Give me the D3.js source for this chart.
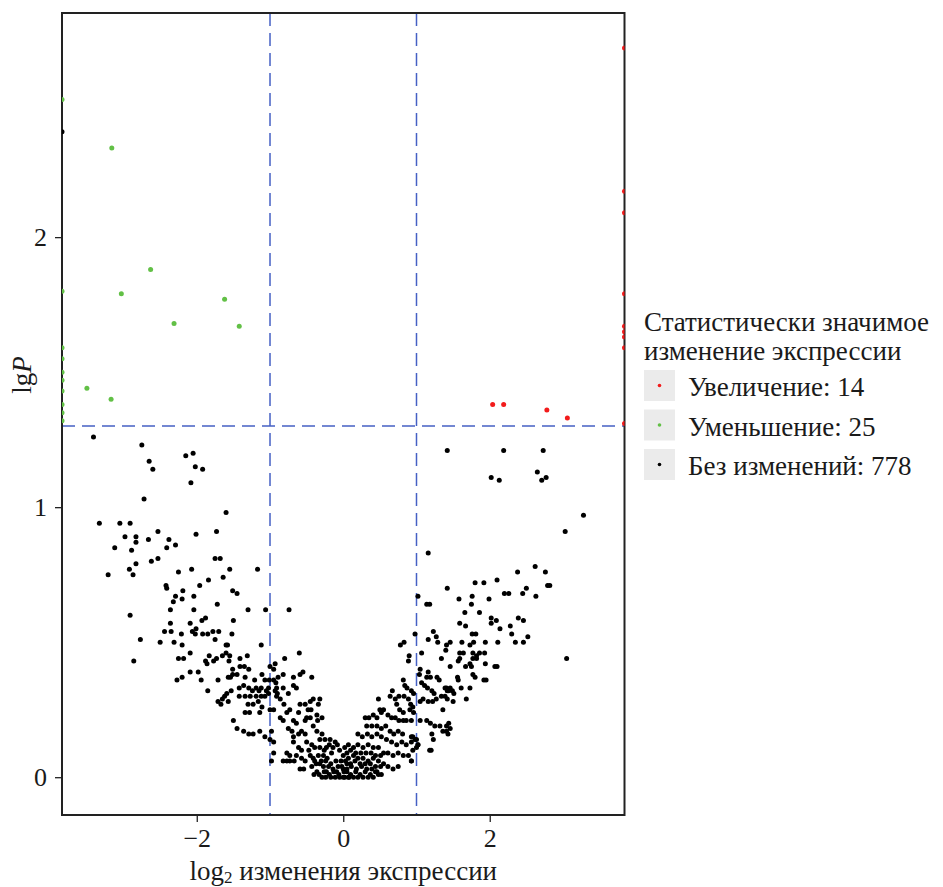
<!DOCTYPE html>
<html>
<head>
<meta charset="utf-8">
<script src="https://cdn.jsdelivr.net/npm/d3@7"></script>
<style>
  body { margin: 0; background: #fff; }
  svg { display: block; font-family: "Liberation Serif", "Times New Roman", serif; }
</style>
</head>
<body>
<div id="chart"></div>
<script>
// Significant increase (red), points at x = 3.84 sit on the panel edge
const upPoints = [
  [2.04, 1.38], [2.19, 1.38], [2.78, 1.36], [3.06, 1.33],
  [3.84, 2.70], [3.84, 2.17], [3.84, 2.09], [3.84, 1.79], [3.84, 1.67],
  [3.84, 1.65], [3.84, 1.63], [3.84, 1.59], [3.84, 1.31]
];

// Significant decrease (green), points at x = -3.84 sit on the panel edge
const downPoints = [
  [-3.16, 2.33], [-2.63, 1.88], [-3.03, 1.79], [-1.62, 1.77], [-2.31, 1.68],
  [-1.42, 1.67], [-3.50, 1.44], [-3.17, 1.40],
  [-3.84, 2.51], [-3.84, 1.80], [-3.84, 1.59], [-3.84, 1.55], [-3.84, 1.50],
  [-3.84, 1.47], [-3.84, 1.43], [-3.84, 1.38], [-3.84, 1.35], [-3.84, 1.32]
];

// No change (black)
const noChangePoints = [
  [-3.84, 2.39],
  // left arm, upper
  [-3.41, 1.26], [-2.75, 1.23], [-2.65, 1.17], [-2.60, 1.14], [-2.15, 1.19], [-2.05, 1.20], [-2.02, 1.15],
  [-1.92, 1.14], [-2.08, 1.09], [-2.72, 1.03], [-1.60, 0.98], [-3.33, 0.94], [-3.05, 0.94], [-2.91, 0.94],
  [-2.53, 0.91], [-2.83, 0.89], [-2.98, 0.89], [-2.01, 0.90], [-1.73, 0.91], [-2.38, 0.88], [-2.66, 0.88],
  [-2.83, 0.87], [-2.29, 0.86], [-2.41, 0.85], [-3.12, 0.85], [-2.89, 0.84], [-1.75, 0.81], [-1.68, 0.81],
  [-2.53, 0.81], [-2.62, 0.80], [-2.83, 0.79], [-2.92, 0.77], [-2.87, 0.75], [-3.21, 0.75], [-2.25, 0.76],
  [-2.07, 0.77], [-1.55, 0.77], [-1.64, 0.74], [-1.84, 0.73], [-2.42, 0.71], [-2.41, 0.70], [-1.96, 0.71],
  [-2.19, 0.69], [-2.29, 0.67], [-2.20, 0.66], [-2.04, 0.67], [-2.32, 0.65], [-1.51, 0.69], [-1.45, 0.68],
  [-1.72, 0.64], [-2.36, 0.62], [-2.04, 0.62], [-2.91, 0.60], [-2.09, 0.57], [-1.93, 0.58], [-1.88, 0.59],
  [-1.50, 0.58], [-2.36, 0.57], [-2.06, 0.54], [-2.01, 0.55], [-2.44, 0.54], [-2.35, 0.54], [-2.21, 0.53],
  [-1.92, 0.53], [-1.85, 0.53], [-1.78, 0.54], [-1.70, 0.54], [-1.52, 0.53], [-2.02, 0.53], [-2.77, 0.51],
  [-1.75, 0.51], [-2.86, 0.43],
  // left arm, lower
  [-2.50, 0.50], [-2.31, 0.50], [-2.20, 0.49], [-1.60, 0.49], [-1.58, 0.49], [-2.09, 0.46], [-1.83, 0.45],
  [-1.65, 0.45], [-1.60, 0.46], [-1.55, 0.45], [-2.25, 0.44], [-2.18, 0.44], [-1.88, 0.43], [-1.86, 0.42],
  [-1.77, 0.43], [-1.73, 0.44], [-1.56, 0.43], [-1.41, 0.44], [-2.09, 0.39], [-1.98, 0.39], [-1.51, 0.40],
  [-2.27, 0.36], [-2.20, 0.37], [-1.94, 0.36], [-1.71, 0.36], [-1.57, 0.37], [-1.54, 0.37], [-1.51, 0.38],
  [-1.41, 0.41], [-1.85, 0.32], [-1.53, 0.32], [-1.59, 0.31], [-1.62, 0.30], [-1.65, 0.29], [-1.71, 0.28],
  [-1.67, 0.27], [-1.57, 0.28], [-1.42, 0.33], [-1.50, 0.21], [-1.45, 0.18],
  // around x = -1
  [-1.17, 0.77], [-1.30, 0.62], [-1.06, 0.62], [-1.12, 0.49], [-1.31, 0.45], [-1.35, 0.41], [-1.29, 0.40],
  [-1.45, 0.38], [-1.21, 0.36], [-1.11, 0.38], [-1.07, 0.36], [-1.01, 0.36], [-0.95, 0.36], [-0.92, 0.35],
  [-1.36, 0.34], [-1.29, 0.33], [-1.24, 0.32], [-1.19, 0.33], [-1.15, 0.32], [-1.12, 0.33], [-1.05, 0.32],
  [-1.02, 0.33], [-1.42, 0.30], [-1.34, 0.30], [-1.27, 0.30], [-1.19, 0.30], [-1.12, 0.30],
  [-0.74, 0.62], [-0.60, 0.46], [-0.93, 0.42], [-0.80, 0.44], [-1.00, 0.41], [-0.95, 0.40], [-0.75, 0.31],
  [-0.64, 0.33], [-0.29, 0.22], [-0.36, 0.23], [-0.35, 0.21],
  // centre, left half
  [-1.34, 0.37], [-0.89, 0.37], [-0.82, 0.38], [-0.68, 0.37], [-0.59, 0.38], [-0.55, 0.39], [-0.43, 0.37],
  [-0.68, 0.34], [-0.82, 0.33], [-0.91, 0.33], [-1.07, 0.30], [-1.02, 0.31], [-0.93, 0.32], [-0.90, 0.31],
  [-0.86, 0.29], [-0.81, 0.27], [-0.91, 0.30], [-1.30, 0.27], [-1.23, 0.27], [-1.16, 0.28], [-1.11, 0.26],
  [-1.34, 0.24], [-1.28, 0.24], [-1.14, 0.24], [-1.00, 0.25], [-0.95, 0.25], [-0.77, 0.24], [-0.73, 0.25],
  [-0.61, 0.24], [-0.48, 0.25], [-0.44, 0.25], [-0.59, 0.27], [-0.52, 0.27], [-0.45, 0.28], [-0.41, 0.29],
  [-0.34, 0.27], [-0.32, 0.29], [-0.50, 0.22], [-0.45, 0.22], [-0.52, 0.21], [-0.68, 0.21], [-0.64, 0.20],
  [-0.86, 0.22], [-0.82, 0.21], [-1.36, 0.17], [-1.29, 0.16], [-1.23, 0.16], [-1.14, 0.17], [-1.07, 0.15],
  [-0.98, 0.17], [-1.00, 0.14], [-0.95, 0.13], [-0.75, 0.18], [-0.70, 0.17], [-0.68, 0.15], [-0.61, 0.16],
  [-0.57, 0.17], [-0.52, 0.16], [-0.41, 0.19], [-0.36, 0.17], [-0.29, 0.16], [-0.32, 0.14], [-0.25, 0.14],
  [-0.18, 0.14], [-0.11, 0.13], [-0.50, 0.13], [-0.43, 0.12], [-0.68, 0.13], [-0.61, 0.11], [-0.57, 0.10],
  [-0.77, 0.09], [-0.73, 0.08], [-0.95, 0.09], [-0.98, 0.06], [-0.82, 0.06], [-0.77, 0.06], [-0.73, 0.06],
  [-0.67, 0.06], [-0.64, 0.08], [-0.57, 0.07], [-0.52, 0.06], [-0.45, 0.08], [-0.41, 0.07], [-0.34, 0.08],
  [-0.27, 0.08], [-0.22, 0.07], [-0.16, 0.09], [-0.39, 0.11], [-0.32, 0.11], [-0.23, 0.11], [-0.14, 0.11],
  [-0.05, 0.10], [0.05, 0.09], [-0.59, 0.03], [-0.54, 0.03], [-0.43, 0.04], [-0.32, 0.05], [-0.27, 0.04],
  [-0.20, 0.04], [-0.14, 0.03], [-0.07, 0.04], [0.00, 0.03], [0.05, 0.05], [-0.29, 0.00], [-0.24, 0.00],
  [-0.17, 0.00], [-0.11, 0.00], [-0.05, 0.00], [0.02, 0.00], [0.08, 0.00], [-0.36, 0.02], [-0.23, 0.02],
  [-0.09, 0.02], [0.05, 0.02], [-0.39, 0.06],
  // dense floor of the V
  [-0.40, 0.01], [-0.33, 0.01], [-0.26, 0.02], [-0.19, 0.01], [-0.13, 0.02], [-0.06, 0.01], [0.01, 0.02],
  [0.10, 0.01], [0.17, 0.02], [0.23, 0.01], [0.30, 0.02], [0.37, 0.01], [0.44, 0.02], [0.52, 0.01],
  [-0.37, 0.05], [-0.30, 0.06], [-0.24, 0.06], [-0.17, 0.05], [-0.10, 0.06], [-0.03, 0.06], [0.03, 0.06],
  [0.10, 0.05], [0.16, 0.06], [0.23, 0.05], [0.30, 0.05], [0.37, 0.05], [0.44, 0.04], [0.51, 0.04],
  [-0.47, 0.10], [-0.26, 0.10], [-0.19, 0.12], [-0.08, 0.12], [0.02, 0.11], [0.10, 0.10], [0.17, 0.09],
  [0.24, 0.09], [0.31, 0.09], [0.38, 0.09], [0.44, 0.08], [0.51, 0.08],
  // centre, right half
  [0.98, 0.53], [0.78, 0.49], [0.83, 0.50], [1.16, 0.51], [1.23, 0.54], [1.27, 0.52], [1.29, 0.50],
  [1.41, 0.49], [0.90, 0.45], [0.89, 0.43], [1.07, 0.46], [1.34, 0.44], [1.05, 0.40], [1.04, 0.38],
  [1.16, 0.39], [1.19, 0.37], [1.14, 0.37], [1.28, 0.37], [1.31, 0.36], [0.82, 0.36], [0.84, 0.34],
  [0.87, 0.33], [0.93, 0.32], [0.96, 0.31], [1.07, 0.35], [1.11, 0.34], [1.15, 0.33], [0.67, 0.32],
  [1.21, 0.32], [1.24, 0.31], [1.27, 0.29], [1.34, 0.30], [1.39, 0.30], [1.42, 0.29], [0.64, 0.30],
  [0.71, 0.29], [0.76, 0.30], [0.83, 0.30], [0.48, 0.29], [0.89, 0.29], [0.92, 0.27], [0.95, 0.26],
  [1.05, 0.28], [1.09, 0.29], [1.16, 0.28], [1.22, 0.28], [0.50, 0.25], [0.55, 0.25], [0.52, 0.24],
  [0.73, 0.27], [0.77, 0.25], [0.82, 0.24], [0.91, 0.25], [0.96, 0.24], [0.30, 0.22], [0.35, 0.22],
  [0.41, 0.23], [0.46, 0.22], [0.61, 0.23], [0.66, 0.22], [0.71, 0.22], [0.76, 0.21], [0.82, 0.21],
  [0.86, 0.21], [0.93, 0.21], [1.05, 0.21], [1.14, 0.21], [1.19, 0.20], [1.25, 0.19], [1.32, 0.19],
  [1.41, 0.19], [1.46, 0.18], [0.32, 0.19], [0.39, 0.19], [0.46, 0.19], [0.52, 0.18], [0.58, 0.19],
  [0.64, 0.17], [0.69, 0.16], [0.75, 0.17], [0.81, 0.16], [0.93, 0.15], [1.00, 0.14], [1.02, 0.12],
  [1.21, 0.16], [1.23, 0.14], [1.18, 0.10], [0.20, 0.16], [0.26, 0.15], [0.33, 0.16], [0.39, 0.15],
  [0.46, 0.16], [0.52, 0.15], [0.59, 0.14], [0.66, 0.13], [0.73, 0.12], [0.80, 0.13], [0.86, 0.12],
  [0.07, 0.12], [0.14, 0.11], [0.20, 0.12], [0.27, 0.11], [0.34, 0.12], [0.41, 0.11], [0.48, 0.11],
  [0.55, 0.09], [0.61, 0.09], [0.68, 0.08], [0.75, 0.09], [0.82, 0.08], [0.89, 0.08], [0.93, 0.06],
  [0.00, 0.08], [0.07, 0.07], [0.14, 0.08], [0.20, 0.07], [0.27, 0.07], [0.34, 0.06], [0.41, 0.07],
  [0.48, 0.06], [0.55, 0.05], [0.61, 0.04], [0.68, 0.03], [0.75, 0.04], [-0.02, 0.04], [0.05, 0.03],
  [0.11, 0.04], [0.18, 0.03], [0.25, 0.04], [0.32, 0.03], [0.39, 0.03], [0.46, 0.02], [0.00, 0.00],
  [0.07, 0.00], [0.14, 0.00], [0.20, 0.00], [0.27, 0.00], [0.34, 0.00], [0.41, 0.00], [0.48, 0.01],
  [1.41, 0.33], [1.44, 0.32], [1.02, 0.67], [1.14, 0.64],
  // right arm, upper
  [1.42, 1.21], [2.19, 1.21], [2.73, 1.21], [2.02, 1.11], [2.13, 1.10], [2.65, 1.13], [2.71, 1.10],
  [2.77, 1.11], [3.28, 0.97], [3.03, 0.91], [1.16, 0.83], [1.42, 0.70], [1.18, 0.64], [1.58, 0.66],
  [1.66, 0.61], [1.76, 0.67], [1.75, 0.64], [1.80, 0.72], [1.92, 0.72], [1.99, 0.66], [1.86, 0.61],
  [2.10, 0.73], [2.20, 0.68], [2.26, 0.68], [2.38, 0.76], [2.45, 0.68], [2.50, 0.70], [2.62, 0.78],
  [2.76, 0.76], [2.63, 0.67], [2.79, 0.71], [2.82, 0.71], [2.02, 0.59], [2.09, 0.58], [2.39, 0.59],
  [2.46, 0.58],
  // right arm, lower
  [1.59, 0.57], [1.67, 0.56], [2.02, 0.57], [2.14, 0.55], [2.28, 0.56], [1.76, 0.53], [1.81, 0.53],
  [2.30, 0.53], [2.52, 0.52], [2.11, 0.50], [2.35, 0.50], [2.46, 0.50], [1.40, 0.47], [1.46, 0.50],
  [1.62, 0.50], [1.73, 0.49], [1.78, 0.50], [1.94, 0.50], [1.59, 0.46], [1.64, 0.46], [1.77, 0.46],
  [1.82, 0.45], [1.86, 0.46], [1.93, 0.46], [1.57, 0.43], [1.59, 0.44], [1.77, 0.44], [1.82, 0.44],
  [1.46, 0.41], [1.67, 0.41], [1.73, 0.42], [1.75, 0.41], [1.94, 0.42], [2.07, 0.41], [2.10, 0.41],
  [3.05, 0.44], [1.56, 0.37], [1.57, 0.36], [1.77, 0.38], [1.80, 0.37], [1.92, 0.36], [1.95, 0.36],
  [1.39, 0.33], [1.42, 0.32], [1.46, 0.33], [1.49, 0.32], [1.51, 0.31], [1.61, 0.33], [1.73, 0.33],
  [1.50, 0.28], [1.68, 0.29], [1.36, 0.25], [1.36, 0.17], [1.41, 0.17], [1.43, 0.16], [1.44, 0.20],
  [1.20, 0.10], [0.95, 0.15], [0.98, 0.14], [0.93, 0.13], [1.00, 0.11], [0.95, 0.10], [0.93, 0.06],
  [1.02, 0.12]
];

const xTicks = [-2, 0, 2];
const yTicks = [0, 1, 2];
const foldCutoffs = [-1, 1];
const pCutoff = 1.301;

const legendTitle = ['Статистически значимое', 'изменение экспрессии'];
const legendLabels = ['Увеличение: 14', 'Уменьшение: 25', 'Без изменений: 778'];
const legendColors = ['#f21b1b', '#62c046', '#000000'];

const width = 943, height = 887;
const plot = { left: 62, right: 624.5, top: 13, bottom: 815 };
const textColor = '#1a1a1a';
const dashColor = '#4560c4';
const serif = '"Liberation Serif", "Times New Roman", serif';

const x = d3.scaleLinear().domain([-3.84, 3.84]).range([plot.left, plot.right]);
const y = d3.scaleLinear().domain([-0.14, 2.83]).range([plot.bottom, plot.top]);

const svg = d3.select('#chart').append('svg')
  .attr('width', width)
  .attr('height', height)
  .attr('font-family', serif);

svg.append('defs').append('clipPath')
  .attr('id', 'panel')
  .append('rect')
  .attr('x', plot.left)
  .attr('y', plot.top)
  .attr('width', plot.right - plot.left)
  .attr('height', plot.bottom - plot.top);

// Cut-off lines
svg.append('g')
  .selectAll('line')
  .data(foldCutoffs)
  .join('line')
  .attr('x1', d => x(d)).attr('x2', d => x(d))
  .attr('y1', plot.top).attr('y2', plot.bottom)
  .attr('stroke', dashColor)
  .attr('stroke-width', 1.5)
  .attr('stroke-dasharray', '13,7');

svg.append('line')
  .attr('x1', plot.left).attr('x2', plot.right)
  .attr('y1', y(pCutoff)).attr('y2', y(pCutoff))
  .attr('stroke', dashColor)
  .attr('stroke-width', 1.5)
  .attr('stroke-dasharray', '13,7');

// Panel border
svg.append('rect')
  .attr('x', plot.left)
  .attr('y', plot.top)
  .attr('width', plot.right - plot.left)
  .attr('height', plot.bottom - plot.top)
  .attr('fill', 'none')
  .attr('stroke', '#222')
  .attr('stroke-width', 2);

// Points
const points = svg.append('g').attr('clip-path', 'url(#panel)');
const groups = [
  { data: noChangePoints, color: legendColors[2] },
  { data: upPoints, color: legendColors[0] },
  { data: downPoints, color: legendColors[1] }
];
groups.forEach(grp => {
  points.append('g')
    .selectAll('circle')
    .data(grp.data)
    .join('circle')
    .attr('cx', d => x(d[0]))
    .attr('cy', d => y(d[1]))
    .attr('r', 2.5)
    .attr('fill', grp.color);
});

// Axes
const xAxis = svg.append('g')
  .attr('transform', `translate(0,${plot.bottom})`)
  .call(d3.axisBottom(x).tickValues(xTicks).tickSize(7).tickPadding(7)
    .tickFormat(d => d < 0 ? '\u2212' + Math.abs(d) : String(d)));

const yAxis = svg.append('g')
  .attr('transform', `translate(${plot.left},0)`)
  .call(d3.axisLeft(y).tickValues(yTicks).tickSize(7).tickPadding(8)
    .tickFormat(d => String(d)));

[xAxis, yAxis].forEach(ax => {
  ax.attr('font-family', serif).attr('font-size', 26);
  ax.select('.domain').remove();
  ax.selectAll('.tick line').attr('stroke', '#222').attr('stroke-width', 1.3);
  ax.selectAll('.tick text').attr('fill', textColor);
});

// Axis titles
const xTitle = svg.append('text')
  .attr('x', (plot.left + plot.right) / 2)
  .attr('y', 880)
  .attr('text-anchor', 'middle')
  .attr('font-size', 27)
  .attr('fill', textColor);
xTitle.append('tspan').text('log');
xTitle.append('tspan').attr('font-size', 17).attr('dy', 3).text('2');
xTitle.append('tspan').attr('dy', -3).text(' изменения экспрессии');

const yTitle = svg.append('text')
  .attr('transform', `translate(31,375) rotate(-90)`)
  .attr('text-anchor', 'middle')
  .attr('font-size', 27)
  .attr('fill', textColor);
yTitle.append('tspan').text('lg');
yTitle.append('tspan').attr('font-style', 'italic').text('P');

// Legend
const legend = svg.append('g').attr('transform', 'translate(644,0)');

legend.selectAll('text.title')
  .data(legendTitle)
  .join('text')
  .attr('class', 'title')
  .attr('x', 0)
  .attr('y', (d, i) => 331 + i * 29)
  .attr('font-size', 27)
  .attr('fill', textColor)
  .text(d => d);

const keys = legend.selectAll('g.key')
  .data(legendLabels)
  .join('g')
  .attr('class', 'key')
  .attr('transform', (d, i) => `translate(0,${370 + i * 39.5})`);

keys.append('rect')
  .attr('width', 31)
  .attr('height', 31)
  .attr('fill', '#ebebeb');

keys.append('circle')
  .attr('cx', 15.5)
  .attr('cy', 15.5)
  .attr('r', 1.8)
  .attr('fill', (d, i) => legendColors[i]);

keys.append('text')
  .attr('x', 44)
  .attr('y', 26)
  .attr('font-size', 27)
  .attr('fill', textColor)
  .text(d => d);
</script>
</body>
</html>
